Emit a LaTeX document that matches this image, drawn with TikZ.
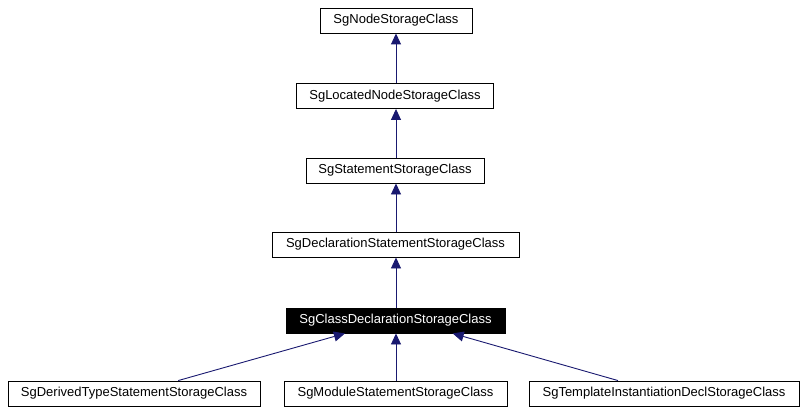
\documentclass[tikz,border=0pt]{standalone}
\usepackage{fontspec}
\setmainfont{Liberation Sans}
\usetikzlibrary{arrows.meta,calc}
\definecolor{edgeblue}{RGB}{25,25,112}
\begin{document}
\begin{tikzpicture}[x=1pt,y=1pt,
  cls/.style={draw=black,line width=0.9pt,fill=white,minimum height=25pt,inner sep=0pt,font=\fontsize{13}{15}\selectfont},
  cur/.style={cls,fill=black,text=white},
  inh/.style={draw=edgeblue,line width=0.9pt,-{Triangle[length=11pt,width=10pt]}}]
\useasboundingbox (0,0) rectangle (805,413);
\node[cls,minimum width=152pt] (n1) at (396,392.5) {SgNodeStorageClass};
\node[cls,minimum width=197pt] (n2) at (395,317) {SgLocatedNodeStorageClass};
\node[cls,minimum width=178pt] (n3) at (395,242.5) {SgStatementStorageClass};
\node[cls,minimum width=247pt] (n4) at (395.5,168.5) {SgDeclarationStatementStorageClass};
\node[cur,minimum width=219pt] (n5) at (395.5,92.5) {SgClassDeclarationStorageClass};
\node[cls,minimum width=252pt] (n6) at (134,19.5) {SgDerivedTypeStatementStorageClass};
\node[cls,minimum width=223pt] (n7) at (395.5,19.5) {SgModuleStatementStorageClass};
\node[cls,minimum width=270pt] (n8) at (664,19.5) {SgTemplateInstantiationDeclStorageClass};
\draw[inh] (n2.north -| n1.south) -- (n1.south);
\draw[inh] (n3.north -| n1.south) -- (n2.south -| n1.south);
\draw[inh] (n4.north -| n1.south) -- (n3.south -| n1.south);
\draw[inh] (n5.north -| n1.south) -- (n4.south -| n1.south);
\draw[inh] (n7.north -| n1.south) -- (n5.south -| n1.south);
\draw[inh] ($(n6.north west)!0.675!(n6.north east)$) -- ($(n5.south west)!0.27!(n5.south east)$);
\draw[inh] ($(n8.north west)!0.33!(n8.north east)$) -- ($(n5.south west)!0.76!(n5.south east)$);
\end{tikzpicture}
\end{document}
